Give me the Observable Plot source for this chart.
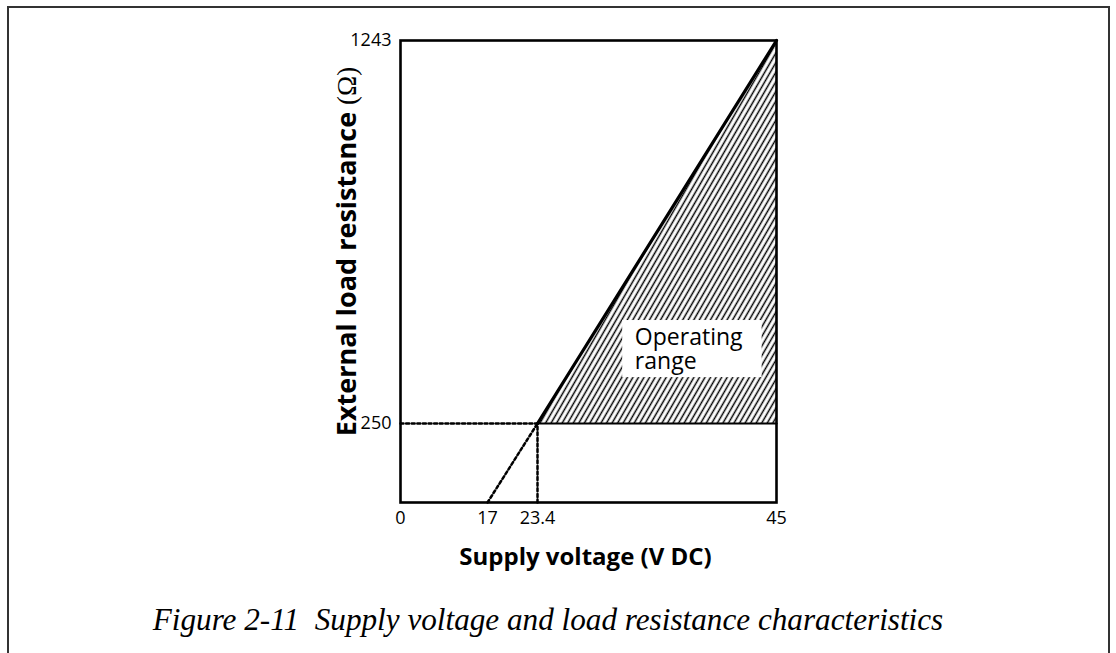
<!DOCTYPE html>
<html><head><meta charset="utf-8">
<script src="https://cdn.jsdelivr.net/npm/d3@7"></script>
<script src="https://cdn.jsdelivr.net/npm/@observablehq/plot@0.6"></script>
<style>
html,body{margin:0;padding:0;background:#fff;width:1116px;height:653px;overflow:hidden;position:relative;}
#frame{position:absolute;left:7px;top:6px;width:1103px;height:700px;border:2px solid #333;box-sizing:border-box;}
#chart{position:absolute;left:0;top:0;}
#caption{position:absolute;left:0;width:1096px;top:602px;text-align:center;font-family:"Liberation Serif",serif;font-style:italic;font-size:31.2px;color:#000;white-space:pre;}
</style></head><body>
<div id="frame"></div>
<div id="chart"></div>
<div id="caption">Figure 2-11  Supply voltage and load resistance characteristics</div>
<script>
// Tick values (schematic, non-uniform axes)
const voltageTicks = [0, 17, 23.4, 45];
const resistanceTicks = [0, 250, 1243];
// Upper limit of operating range
const limitVoltage = [23.4, 45];
const limitResistance = [250, 1243];
// Minimum load resistance line
const minVoltage = [23.4, 45];
const minResistance = [250, 250];
// Dotted guides
const guideHVoltage = [0, 23.4];
const guideHResistance = [250, 250];
const guideVVoltage = [23.4, 23.4];
const guideVResistance = [0, 250];
const extrapVoltage = [17, 23.4];
const extrapResistance = [0, 250];

const pts = (xs, ys) => xs.map((x, i) => [x, ys[i]]);
const region = [
  {v: limitVoltage[0], lo: minResistance[0], hi: limitResistance[0]},
  {v: limitVoltage[1], lo: minResistance[1], hi: limitResistance[1]}
];

const defs = () => {
  const d = d3.create("svg:defs");
  const p = d.append("pattern").attr("id", "hatch").attr("patternUnits", "userSpaceOnUse")
    .attr("width", 4.8).attr("height", 10).attr("patternTransform", "rotate(30)");
  p.append("line").attr("x1", 2.4).attr("y1", -1).attr("x2", 2.4).attr("y2", 11)
    .attr("stroke", "#000").attr("stroke-width", 1.5);
  return d.node();
};

const dash = {stroke: "black", strokeWidth: 2.5, strokeDasharray: "3,2.6"};
const fmt = d => String(d);

const chart = Plot.plot({
  width: 1116, height: 580,
  marginLeft: 400, marginRight: 340, marginTop: 40, marginBottom: 78,
  style: {fontFamily: "'Open Sans', sans-serif", fontSize: "18px", color: "#000", background: "transparent"},
  x: {type: "linear", domain: voltageTicks, range: [400, 487, 537, 776]},
  y: {type: "linear", domain: resistanceTicks, range: [502, 423, 40]},
  marks: [
    defs,
    Plot.area(region, {x1: "v", y1: "lo", y2: "hi", fill: "url(#hatch)"}),
    Plot.rect([0], {x1: 31.1, x2: 43.7, y1: 369, y2: 517, fill: "white"}),
    Plot.text(["Operating\nrange"], {x: 32.2, y: 443, textAnchor: "start", lineAnchor: "middle", fontSize: 23, lineHeight: 1.08, fill: "black"}),
    Plot.line(pts(guideHVoltage, guideHResistance), dash),
    Plot.line(pts(guideVVoltage, guideVResistance), dash),
    Plot.line(pts(extrapVoltage, extrapResistance), dash),
    Plot.line(pts(minVoltage, minResistance), {stroke: "black", strokeWidth: 2.2}),
    Plot.line(pts(limitVoltage, limitResistance), {stroke: "black", strokeWidth: 3.2}),
    Plot.frame({stroke: "black", strokeWidth: 2.6}),
    Plot.axisX(voltageTicks, {tickSize: 0, tickPadding: 9, label: null, fontSize: 18, tickFormat: fmt}),
    Plot.axisY(resistanceTicks.filter(d => d > 0), {tickSize: 0, tickPadding: 9, label: null, fontSize: 18, tickFormat: fmt}),
    Plot.text(["Supply voltage (V DC)"], {frameAnchor: "bottom", dx: -3, dy: 55, textAnchor: "middle", lineAnchor: "middle", fontWeight: "bold", fontSize: 24, fill: "black"}),
    Plot.text(["External load resistance (Ω)"], {frameAnchor: "left", dx: -53, dy: -20, rotate: -90, textAnchor: "middle", lineAnchor: "middle", fontWeight: "bold", fontSize: 27, fill: "black"})
  ]
});
document.getElementById("chart").appendChild(chart);

// mixed weight for the y-axis label: unit in regular weight
d3.select(chart).selectAll("text").each(function() {
  if (this.textContent === "External load resistance (Ω)") {
    this.textContent = "External load resistance ";
    d3.select(this).append("tspan").attr("font-weight", "normal").attr("font-family", "'Liberation Serif', serif").text("(Ω)");
  }
});
</script>
</body></html>
